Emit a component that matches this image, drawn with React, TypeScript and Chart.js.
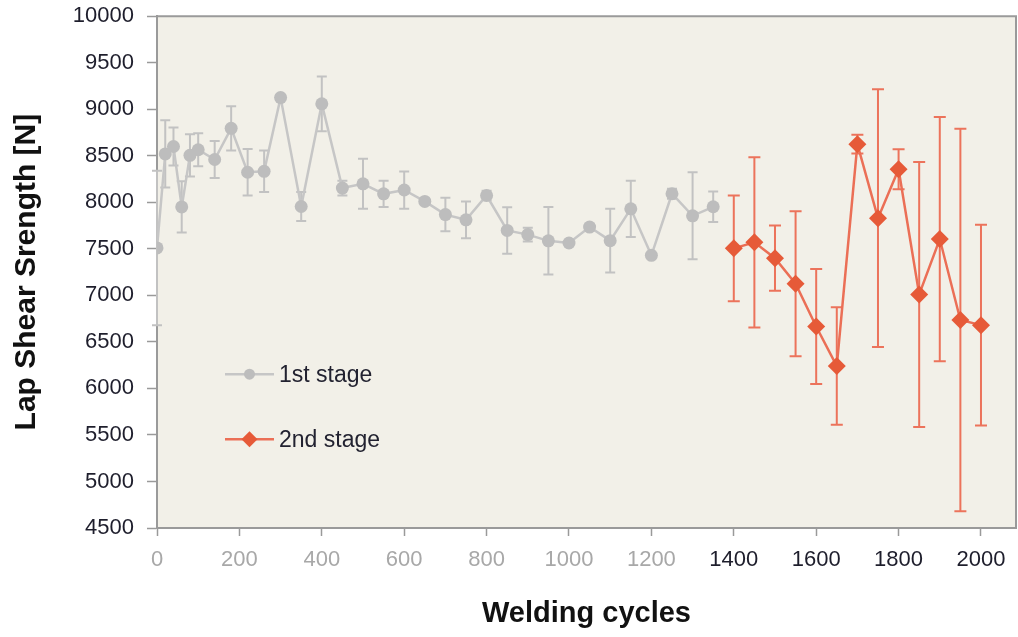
import { useEffect, useRef } from 'react';
import { Chart, registerables } from 'chart.js';

Chart.register(...registerables);

// First stage: welding cycles, mean lap shear strength [N], error (±)
const stage1Cycles = [0, 20, 40, 60, 80, 100, 140, 180, 220, 260, 300, 350, 400, 450, 500, 550, 600, 650, 700, 750, 800, 850, 900, 950, 1000, 1050, 1100, 1150, 1200, 1250, 1300, 1350];
const stage1Strength = [7510, 8520, 8600, 7950, 8505, 8565, 8460, 8795, 8323, 8333, 9125, 7955, 9058, 8153, 8199, 8091, 8132, 8010, 7868, 7812, 8073, 7698, 7653, 7586, 7563, 7734, 7588, 7930, 7430, 8092, 7855, 7952];
const stage1Error = [830, 362, 205, 275, 227, 178, 200, 238, 250, 223, 25, 157, 295, 80, 268, 142, 200, 30, 180, 197, 50, 250, 73, 363, 25, 35, 343, 303, 25, 55, 468, 164];

// Second stage
const stage2Cycles = [1400, 1450, 1500, 1550, 1600, 1650, 1700, 1750, 1800, 1850, 1900, 1950, 2000];
const stage2Strength = [7505, 7570, 7400, 7125, 6665, 6240, 8625, 7830, 8355, 7010, 7605, 6735, 6680];
const stage2Error = [568, 915, 350, 778, 617, 631, 100, 1385, 214, 1424, 1313, 2055, 1078];

const xTickValues = [0, 200, 400, 600, 800, 1000, 1200, 1400, 1600, 1800, 2000];
const seriesLabels = ['1st stage', '2nd stage'];

const FONT = '"Liberation Sans", Arial, sans-serif';
const GRAY_LINE = '#C6C6C6';
const GRAY_MARK = '#BDBDBD';
const GRAY_ERR = '#C2C2C2';
const RED_LINE = '#EB6F56';
const RED_MARK = '#E65A38';
const RED_ERR = '#EC735B';
const PLOT_BG = '#F2F0E8';
const AXIS = '#9A9A9A';
const LABEL_DARK = '#1E1E2C';

// The canvas is a little larger than the visible frame so that the plot
// area reaches the top and right edges of the frame.
const FRAME_W = 1018;
const FRAME_H = 637;
const CANVAS_W = 1025;
const CANVAS_H = 647;
const CANVAS_TOP = -10;

function makeDotStyle(): HTMLCanvasElement {
  const c = document.createElement('canvas');
  c.width = 16;
  c.height = 16;
  const g = c.getContext('2d')!;
  g.fillStyle = '#111';
  g.fillRect(6.5, 10, 3, 3);
  return c;
}

const plotBackground = {
  id: 'plotBackground',
  beforeDraw(chart: any) {
    const { ctx, chartArea: a } = chart;
    ctx.save();
    ctx.fillStyle = PLOT_BG;
    ctx.fillRect(a.left, a.top, a.right - a.left, a.bottom - a.top);
    ctx.strokeStyle = AXIS;
    ctx.lineWidth = 2;
    ctx.beginPath();
    ctx.moveTo(a.left, a.top);
    ctx.lineTo(a.right, a.top);
    ctx.lineTo(a.right, a.bottom);
    ctx.stroke();
    ctx.restore();
  },
};

const errorBars = {
  id: 'errorBars',
  beforeDatasetsDraw(chart: any) {
    const { ctx } = chart;
    const xs = chart.scales.x;
    const ys = chart.scales.y;
    chart.data.datasets.forEach((ds: any) => {
      if (!ds.errors) return;
      ctx.save();
      ctx.strokeStyle = ds.errorColor;
      ctx.lineWidth = 2;
      ds.data.forEach((p: any, i: number) => {
        const e = ds.errors[i];
        const px = xs.getPixelForValue(p.x);
        const top = ys.getPixelForValue(p.y + e);
        const bot = ys.getPixelForValue(p.y - e);
        const cw = ds.capHalf;
        ctx.beginPath();
        ctx.moveTo(px, top);
        ctx.lineTo(px, bot);
        ctx.moveTo(px - cw, top);
        ctx.lineTo(px + cw, top);
        ctx.moveTo(px - cw, bot);
        ctx.lineTo(px + cw, bot);
        ctx.stroke();
      });
      ctx.restore();
    });
  },
};

const insideLegend = {
  id: 'insideLegend',
  afterDraw(chart: any) {
    const { ctx, chartArea: a } = chart;
    const entries = [
      { label: seriesLabels[0], line: GRAY_LINE, mark: GRAY_MARK, style: 'circle', dy: 358 },
      { label: seriesLabels[1], line: RED_LINE, mark: RED_MARK, style: 'diamond', dy: 423 },
    ];
    ctx.save();
    entries.forEach((en) => {
      const y = a.top + en.dy;
      const x0 = a.left + 68;
      const x1 = a.left + 117;
      const cx = (x0 + x1) / 2;
      ctx.strokeStyle = en.line;
      ctx.lineWidth = 2.5;
      ctx.beginPath();
      ctx.moveTo(x0, y);
      ctx.lineTo(x1, y);
      ctx.stroke();
      ctx.fillStyle = en.mark;
      ctx.beginPath();
      if (en.style === 'circle') {
        ctx.arc(cx, y, 5.5, 0, Math.PI * 2);
      } else {
        ctx.moveTo(cx, y - 8);
        ctx.lineTo(cx + 8, y);
        ctx.lineTo(cx, y + 8);
        ctx.lineTo(cx - 8, y);
        ctx.closePath();
      }
      ctx.fill();
      ctx.fillStyle = '#222230';
      ctx.font = `23px ${FONT}`;
      ctx.textAlign = 'left';
      ctx.textBaseline = 'middle';
      ctx.fillText(en.label, x1 + 5, y + 1);
    });
    ctx.restore();
  },
};

export default function App() {
  const canvasRef = useRef<HTMLCanvasElement | null>(null);

  useEffect(() => {
    const canvas = canvasRef.current;
    if (!canvas) return;
    const dot = makeDotStyle();

    const chart = new Chart(canvas, {
      type: 'line',
      data: {
        datasets: [
          {
            label: seriesLabels[0],
            data: stage1Cycles.map((x, i) => ({ x, y: stage1Strength[i] })),
            borderColor: GRAY_LINE,
            backgroundColor: GRAY_MARK,
            borderWidth: 2.5,
            pointStyle: 'circle',
            pointRadius: 6.5,
            pointBorderWidth: 0,
            pointBackgroundColor: GRAY_MARK,
            errors: stage1Error,
            errorColor: GRAY_ERR,
            capHalf: 5,
          } as any,
          {
            label: 'dots',
            data: stage1Cycles.map((x, i) => ({ x, y: stage1Strength[i] })),
            showLine: false,
            pointStyle: dot as any,
            pointRadius: 8,
          } as any,
          {
            label: seriesLabels[1],
            data: stage2Cycles.map((x, i) => ({ x, y: stage2Strength[i] })),
            borderColor: RED_LINE,
            backgroundColor: RED_MARK,
            borderWidth: 2.5,
            pointStyle: 'rectRot',
            pointRadius: 9,
            pointBorderWidth: 0,
            pointBackgroundColor: RED_MARK,
            errors: stage2Error,
            errorColor: RED_ERR,
            capHalf: 6,
          } as any,
        ],
      },
      options: {
        animation: false,
        responsive: false,
        maintainAspectRatio: false,
        layout: { padding: { top: 6, right: -5, left: 0, bottom: 0 } },
        plugins: {
          legend: { display: false },
          tooltip: { enabled: false },
        },
        scales: {
          x: {
            type: 'linear',
            min: 0,
            max: 2085,
            afterBuildTicks: (scale: any) => {
              scale.ticks = xTickValues.map((value) => ({ value }));
            },
            afterFit: (scale: any) => {
              scale.height = 109;
            },
            grid: {
              drawOnChartArea: false,
              drawTicks: true,
              tickLength: 8,
              tickColor: AXIS,
              tickWidth: 1.5,
            },
            border: { display: true, color: AXIS, width: 2 },
            ticks: {
              padding: 11,
              maxRotation: 0,
              autoSkip: false,
              font: { family: FONT, size: 22 },
              color: (c: any) => (c.tick && c.tick.value <= 1200 ? '#A8A8A8' : LABEL_DARK),
              callback: (v: any) => String(v),
            },
            title: {
              display: true,
              text: 'Welding cycles',
              color: '#111',
              font: { family: FONT, size: 29, weight: 'bold' },
              padding: { top: 0, bottom: 6 },
            },
          },
          y: {
            type: 'linear',
            min: 4500,
            max: 10000,
            afterFit: (scale: any) => {
              scale.width = 157;
            },
            grid: {
              drawOnChartArea: false,
              drawTicks: true,
              tickLength: 10,
              tickColor: AXIS,
              tickWidth: 1.5,
            },
            border: { display: true, color: AXIS, width: 2 },
            ticks: {
              stepSize: 500,
              padding: 13,
              font: { family: FONT, size: 22 },
              color: LABEL_DARK,
              callback: (v: any) => String(v),
            },
            title: {
              display: true,
              text: 'Lap Shear Srength [N]',
              color: '#111',
              font: { family: FONT, size: 30, weight: 'bold' },
              padding: { top: 9, bottom: 0 },
            },
          },
        },
      } as any,
      plugins: [plotBackground, errorBars, insideLegend],
    });

    return () => chart.destroy();
  }, []);

  return (
    <div
      style={{
        position: 'fixed',
        left: 0,
        top: 0,
        width: FRAME_W,
        height: FRAME_H,
        overflow: 'hidden',
        background: '#fff',
      }}
    >
      <canvas
        ref={canvasRef}
        width={CANVAS_W}
        height={CANVAS_H}
        style={{ position: 'absolute', left: 0, top: CANVAS_TOP, width: CANVAS_W, height: CANVAS_H, display: 'block' }}
      />
    </div>
  );
}
